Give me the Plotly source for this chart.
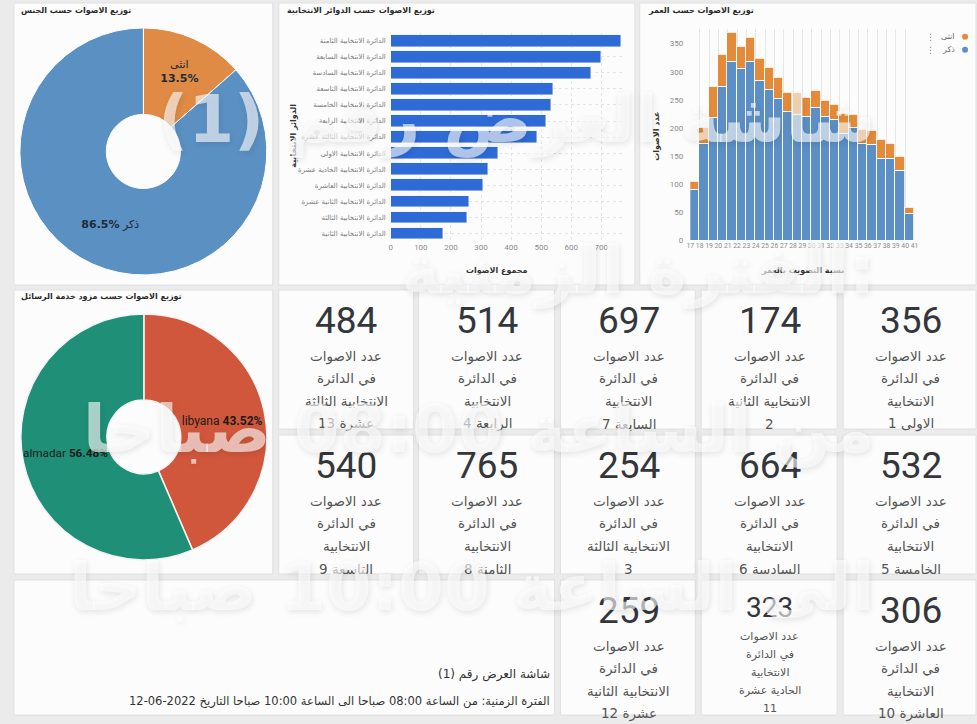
import plotly.graph_objects as go

W, H = 977, 724


def px(x):
    return x / W


def py(y):
    return 1 - y / H


# ---------------- data ----------------
gender_labels = ["انثى", "ذكر"]
gender_values = [792, 5076]

provider_labels = ["libyana", "almadar"]
provider_values = [2554, 3314]

district_names = [
    "الدائرة الانتخابية الثامنة",
    "الدائرة الانتخابية السابعة",
    "الدائرة الانتخابية السادسة",
    "الدائرة الانتخابية التاسعة",
    "الدائرة الانتخابية الخامسة",
    "الدائرة الانتخابية الرابعة",
    "الدائرة الانتخابية الثالثة عشرة",
    "الدائرة الانتخابية الاولى",
    "الدائرة الانتخابية الحادية عشرة",
    "الدائرة الانتخابية العاشرة",
    "الدائرة الانتخابية الثانية عشرة",
    "الدائرة الانتخابية الثالثة",
    "الدائرة الانتخابية الثانية",
]
district_votes = [765, 697, 664, 540, 532, 514, 484, 356, 323, 306, 259, 254, 174]

age_bins = [17, 18, 19, 20, 21, 22, 23, 24, 25, 26, 27, 28, 29, 30, 31, 32, 33, 34, 35, 36, 37, 38, 39, 40]
male_votes = [91, 172, 218, 274, 318, 305, 319, 285, 269, 252, 229, 224, 220, 236, 221, 216, 190, 201, 172, 171, 145, 146, 125, 49]
female_votes = [14, 29, 56, 56, 52, 40, 41, 38, 39, 38, 35, 40, 35, 31, 28, 26, 36, 23, 26, 24, 35, 26, 24, 9]
age_ticks = list(range(17, 42))

kpi_values = [484, 514, 697, 174, 356, 540, 765, 254, 664, 532, 259, 323, 306]
kpi_lines = [
    ["عدد الاصوات", "في الدائرة", "الانتخابية الثالثة", "عشرة 13"],
    ["عدد الاصوات", "في الدائرة", "الانتخابية", "الرابعة 4"],
    ["عدد الاصوات", "في الدائرة", "الانتخابية", "السابعة 7"],
    ["عدد الاصوات", "في الدائرة", "الانتخابية الثانية", "2"],
    ["عدد الاصوات", "في الدائرة", "الانتخابية", "الاولى 1"],
    ["عدد الاصوات", "في الدائرة", "الانتخابية", "التاسعة 9"],
    ["عدد الاصوات", "في الدائرة", "الانتخابية", "الثامنة 8"],
    ["عدد الاصوات", "في الدائرة", "الانتخابية الثالثة", "3"],
    ["عدد الاصوات", "في الدائرة", "الانتخابية", "السادسة 6"],
    ["عدد الاصوات", "في الدائرة", "الانتخابية", "الخامسة 5"],
    ["عدد الاصوات", "في الدائرة", "الانتخابية الثانية", "عشرة 12"],
    ["عدد الاصوات", "في الدائرة", "الانتخابية", "الحادية عشرة", "11"],
    ["عدد الاصوات", "في الدائرة", "الانتخابية", "العاشرة 10"],
]

titles = {
    "gender": "توزيع الاصوات حسب الجنس",
    "district": "توزيع الاصوات حسب الدوائر الانتخابية",
    "age": "توزيع الاصوات حسب العمر",
    "provider": "توزيع الاصوات حسب مزود خدمة الرسائل",
}
watermark_lines = [
    "شاشة العرض رقم (1)",
    "الفترة الزمنية:",
    "من الساعة 08:00 صباحا",
    "الى الساعة 10:00 صباحا",
]
footer_1 = "شاشة العرض رقم (1)"
footer_2 = "الفترة الزمنية: من الساعة 08:00 صباحا الى الساعة 10:00 صباحا التاريخ 2022-06-12"

# ---------------- styling ----------------
BG = "#ebebeb"
CARD = "#fcfcfc"
CARD_LINE = "#e0e0e0"
ARABIC = "DejaVu Sans"
LATIN = "Roboto"
BLUE_H = "#5b8fc5"
ORANGE_H = "#e38b3b"

fig = go.Figure()

# gender pie
fig.add_trace(go.Pie(
    labels=gender_labels, values=gender_values, hole=0.3, sort=False,
    direction="clockwise", rotation=0,
    marker=dict(colors=["#df8b45", "#5b90c3"], line=dict(color="white", width=1)),
    texttemplate=["%{label}<br><b>%{percent:.1%}</b>", "<b>%{percent:.1%}</b> %{label}"],
    textposition="inside", insidetextorientation="horizontal",
    textfont=dict(size=11, color="#1e2a36", family=ARABIC),
    domain=dict(x=[px(16), px(265)], y=[py(277), py(28)]),
    showlegend=False,
))

# provider pie
fig.add_trace(go.Pie(
    labels=provider_labels, values=provider_values, hole=0.3, sort=False,
    direction="clockwise", rotation=0,
    marker=dict(colors=["#d0573c", "#1f8f77"], line=dict(color="#f3f3f3", width=1.5)),
    texttemplate="%{label} <b>%{percent:.2%}</b>",
    textposition="inside", insidetextorientation="horizontal",
    textfont=dict(size=12, color="#1b1b1b", family=LATIN),
    domain=dict(x=[px(17), px(265)], y=[py(564), py(316)]),
    showlegend=False,
))

# district bar chart
fig.add_trace(go.Bar(
    x=district_votes, y=district_names, orientation="h", width=0.74,
    marker=dict(color="#2e6bd6"), xaxis="x", yaxis="y", showlegend=False,
))

# age histogram (stacked)
fig.add_trace(go.Bar(
    x=age_bins, y=male_votes, offset=0, width=1, name="ذكر",
    marker=dict(color=BLUE_H, line=dict(color="white", width=0.8)),
    xaxis="x2", yaxis="y2", showlegend=False,
))
fig.add_trace(go.Bar(
    x=age_bins, y=female_votes, offset=0, width=1, name="انثى",
    marker=dict(color=ORANGE_H, line=dict(color="white", width=0.8)),
    xaxis="x2", yaxis="y2", showlegend=False,
))

shapes = []
annotations = []


def card(x0, y0, x1, y1):
    shapes.append(dict(type="rect", xref="paper", yref="paper", layer="below",
                       x0=px(x0), x1=px(x1), y0=py(y1), y1=py(y0),
                       fillcolor=CARD, line=dict(color=CARD_LINE, width=1)))


def text(x, y, s, size, color="#333", family=ARABIC, xanchor="center", yanchor="middle", **kw):
    annotations.append(dict(x=px(x), y=py(y), xref="paper", yref="paper", text=s,
                            showarrow=False, xanchor=xanchor, yanchor=yanchor,
                            font=dict(size=size, color=color, family=family), **kw))


# chart cards
card(10, 3, 271, 287)
card(277, 3, 636, 287)
card(641, 3, 980, 287)
card(10, 292, 271, 578)
card(10, 584, 555, 720)

text(15, 11, "<b>" + titles["gender"] + "</b>", 8, "#2a2a2a", xanchor="left")
text(283, 11, "<b>" + titles["district"] + "</b>", 8, "#2a2a2a", xanchor="left")
text(647, 11, "<b>" + titles["age"] + "</b>", 8, "#2a2a2a", xanchor="left")
text(15, 299, "<b>" + titles["provider"] + "</b>", 8, "#2a2a2a", xanchor="left")

# axis titles
text(291, 137, "<b>الدوائر الانتخابية</b>", 8, "#333", textangle=-90)
text(497, 272, "<b>مجموع الاصوات</b>", 8, "#333")
text(657, 137, "<b>عدد الاصوات</b>", 8, "#333", textangle=-90)
text(805, 272, "<b>نسبة التصويت بالعمر</b>", 8, "#333")

# histogram legend (right-to-left style)
for yy, lab, col in [(37, "انثى", ORANGE_H), (50, "ذكر", BLUE_H)]:
    shapes.append(dict(type="circle", xref="paper", yref="paper",
                       x0=px(966), x1=px(972), y0=py(yy + 3), y1=py(yy - 3),
                       fillcolor=col, line=dict(width=0)))
    text(961, yy, lab, 8, "#666", xanchor="right")
    text(934, yy, "⋮", 9, "#888")

# KPI cards
col_x = [(277, 413), (418, 555), (561, 697), (703, 840), (846, 980)]
col_c = [345, 487, 630, 772, 914]
row_y = [(292, 432), (438, 578), (584, 720)]
slots = [(0, c) for c in range(5)] + [(1, c) for c in range(5)] + [(2, 2), (2, 3), (2, 4)]
for (r, c), val, lines in zip(slots, kpi_values, kpi_lines):
    x0, x1 = col_x[c]
    y0, y1 = row_y[r]
    card(x0, y0, x1, y1)
    cx = col_c[c]
    if len(lines) == 5:
        text(cx, y0 + 28, str(val), 28, "#33363b", family=LATIN)
        for i, ln in enumerate(lines):
            text(cx, y0 + 57 + 18 * i, ln, 11, "#555")
    else:
        text(cx, y0 + 31, str(val), 37, "#33363b", family=LATIN)
        for i, ln in enumerate(lines):
            text(cx, y0 + 67 + 22.5 * i, ln, 13.5, "#555")

# footer text
text(553, 679, footer_1, 12, "#333", xanchor="right")
text(553, 706, footer_2, 11.5, "#333", xanchor="right")

# watermark
for yy, ln in zip([120, 272, 432, 592], watermark_lines):
    annotations.append(dict(
        x=px(880), y=py(yy), xref="paper", yref="paper", text=ln, showarrow=False,
        xanchor="right", yanchor="middle",
        font=dict(size=66, color="rgba(255,255,255,0.62)", family=ARABIC, weight=700,
                  shadow="1px 2px 6px rgba(0,0,0,0.16)"),
    ))

fig.update_layout(
    width=W, height=H, margin=dict(l=0, r=0, t=0, b=0),
    paper_bgcolor=BG, plot_bgcolor="white",
    barmode="stack", bargap=0,
    shapes=shapes, annotations=annotations,
    xaxis=dict(domain=[px(390), px(625)], range=[0, 775], dtick=100, anchor="y",
               showgrid=True, gridcolor="#e3e3e3", griddash="dot", zeroline=False,
               showline=False, ticks="", tickfont=dict(size=8, color="#8a8a8a", family=LATIN)),
    yaxis=dict(domain=[py(243), py(33)], type="category", autorange="reversed", anchor="x",
               showgrid=True, gridcolor="#e3e3e3", griddash="dot", zeroline=False,
               ticks="", ticklabelstandoff=4,
               tickfont=dict(size=7, color="#7a7a7a", family=ARABIC)),
    xaxis2=dict(domain=[px(692), px(918)], range=[17, 41], tickvals=age_ticks, tickangle=0,
                anchor="y2", showgrid=True, gridcolor="#e6e6e6", zeroline=False,
                showline=False, ticks="", tickfont=dict(size=6.8, color="#8a8a8a", family=LATIN)),
    yaxis2=dict(domain=[py(242.3), py(29.7)], range=[0, 375], dtick=50, anchor="x2",
                showgrid=False, zeroline=False, ticks="", ticklabelstandoff=6,
                tickfont=dict(size=8, color="#8a8a8a", family=LATIN)),
)

fig.write_html(
    "out.html",
    config={"displayModeBar": False},
    post_script="document.body.style.margin='0';document.body.style.background='" + BG + "';",
)
